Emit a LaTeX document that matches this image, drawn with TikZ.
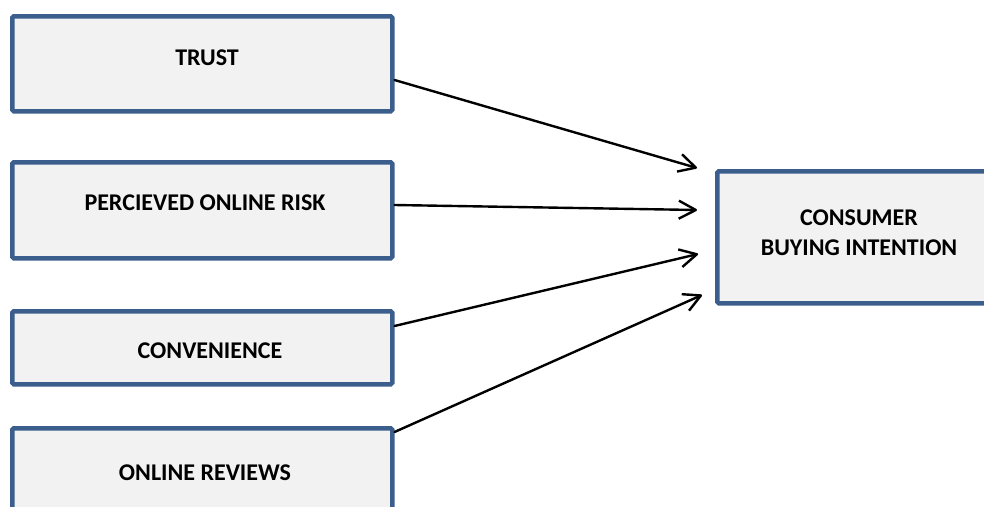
\documentclass[tikz,border=0pt]{standalone}
\usepackage{fontspec}
\setmainfont{Carlito}
\usetikzlibrary{arrows.meta}
\definecolor{boxborder}{HTML}{3B5E8C}
\definecolor{boxfill}{HTML}{F2F2F2}
\begin{document}
\begin{tikzpicture}[x=1pt,y=-1pt,
  box/.style={draw=boxborder, fill=boxfill, line width=4.5pt, rounded corners=1.5pt, inner sep=0pt, anchor=north west},
  lbl/.style={font=\fontsize{24}{30}\selectfont\bfseries, inner sep=0pt, anchor=base},
  conn/.style={line width=2.4pt, line cap=round, -{Straight Barb[length=17pt,width=18pt,line join=round]}}]
\useasboundingbox (0,0) rectangle (984,506);
\clip (0,0) rectangle (984,506);
% boxes
\node[box, minimum width=380pt, minimum height=95pt]  (trustbox) at (10,14) {};
\node[box, minimum width=380pt, minimum height=96pt]  (riskbox)  at (10,160) {};
\node[box, minimum width=380pt, minimum height=73pt]  (convbox)  at (10,309) {};
\node[box, minimum width=380pt, minimum height=114pt] (revbox)   at (10,426) {};
\node[box, minimum width=285pt, minimum height=132pt] (cbibox)   at (715,169) {};
% labels
\node[lbl] (trust) at (207,65)  {TRUST};
\node[lbl] (risk)  at (205,210) {PERCIEVED ONLINE RISK};
\node[lbl] (conv)  at (210,358) {CONVENIENCE};
\node[lbl] (rev)   at (205,480) {ONLINE REVIEWS};
\node[lbl] (cbi1)  at (859,225) {CONSUMER};
\node[lbl] (cbi2)  at (859,255) {BUYING INTENTION};
% arrow ends
\coordinate (in1) at (697,168);
\coordinate (in2) at (697,210);
\coordinate (in3) at (698,254);
\coordinate (in4) at (702,295);
% connectors
\draw[conn] (trustbox.east |- 0,80)  -- (in1);
\draw[conn] (riskbox.east |- 0,205)  -- (in2);
\draw[conn] (convbox.east |- 0,326)  -- (in3);
\draw[conn] (revbox.east |- 0,432)   -- (in4);
\end{tikzpicture}
\end{document}
